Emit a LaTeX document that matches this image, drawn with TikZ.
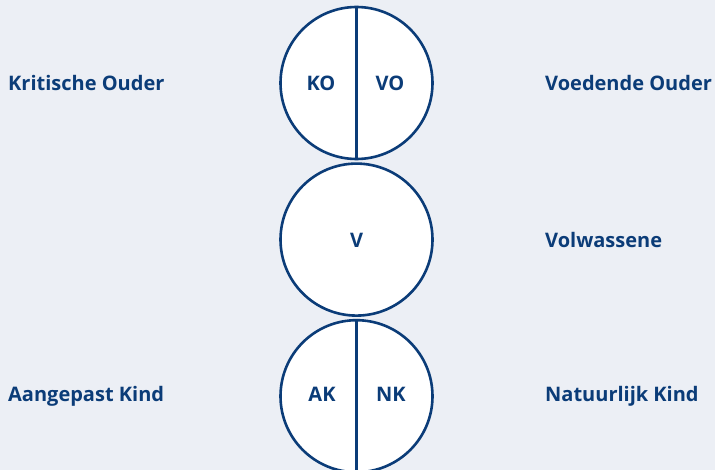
\documentclass[tikz,border=0pt]{standalone}
\usepackage{fontspec}
\setmainfont{Open Sans}
\usepackage{xcolor}
\usetikzlibrary{positioning}
\definecolor{egoblue}{HTML}{0B3C78}
\definecolor{egobg}{HTML}{ECEFF5}
\tikzset{ego node/.style={circle,draw=egoblue,fill=white,line width=2.6pt,minimum size=152pt,inner sep=0pt},
         part node/.style={text=egoblue,font=\fontsize{20}{23}\selectfont\bfseries,anchor=base,inner sep=0pt},
         name node/.style={text=egoblue,font=\fontsize{20}{23}\selectfont\bfseries,anchor=base west,inner sep=0pt},
            }

\begin{document}
\begin{tikzpicture}[x=1pt,y=-1pt]

    \fill[egobg] (0,0) rectangle (715,470);
    \useasboundingbox (0,0) rectangle (715,470);

    \node[ego node] (P) at (356.5,83) {};
    \node[ego node] (A) [below = 2pt of P] {};
    \node[ego node] (C) [below = 2pt of A] {};

    \draw[egoblue,line width=2.6pt] (P.north) -- (P.south);
    \draw[egoblue,line width=2.6pt] (C.north) -- (C.south);

    \node[part node] (KO) at (321,91) {KO};
    \node[part node] (VO) at (390,91) {VO};
    \node[part node] (V) at (356.5,248) {V};
    \node[part node] (AK) at (322,401) {AK};
    \node[part node] (NK) at (391,401) {NK};

    \node[name node] (kritisch) at (8,91) {Kritische Ouder};
    \node[name node] (voedend) at (545,91) {Voedende Ouder};
    \node[name node] (volw) at (545,248) {Volwassene};
    \node[name node] (aangepast) at (8,401) {Aangepast Kind};
    \node[name node] (natuurlijk) at (545,401) {Natuurlijk Kind};

\end{tikzpicture}
\end{document}
